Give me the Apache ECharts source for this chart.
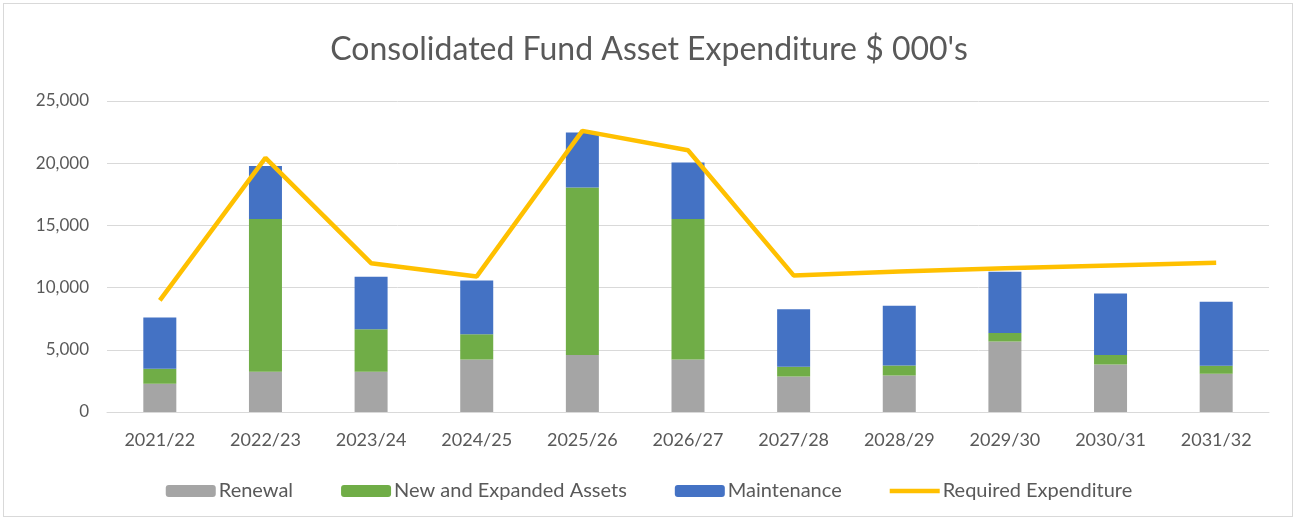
<!DOCTYPE html>
<html>
<head>
<meta charset="utf-8">
<script src="https://cdn.jsdelivr.net/npm/echarts@6/dist/echarts.min.js"></script>
<style>
    html, body { margin: 0; padding: 0; background: #fff; }
    #wrap { position: absolute; left: 3px; top: 3px; width: 1290px; height: 514px; border: 1px solid #d9d9d9; box-sizing: border-box; }
    #chart { width: 1298px; height: 522px; position: absolute; left: 0; top: 0; }
</style>
</head>
<body>
<div id="wrap"></div>
<div id="chart"></div>
<script>
var years = ['2021/22', '2022/23', '2023/24', '2024/25', '2025/26', '2026/27', '2027/28', '2028/29', '2029/30', '2030/31', '2031/32'];
var renewal = [2270, 3230, 3230, 4220, 4590, 4220, 2860, 2940, 5660, 3820, 3070];
var newAssets = [1200, 12290, 3420, 2030, 13460, 11300, 770, 800, 700, 770, 640];
var maintenance = [4120, 4250, 4220, 4330, 4410, 4540, 4620, 4810, 4910, 4940, 5160];
var required = [8970, 20430, 11960, 10900, 22600, 21040, 10980, 11300, 11560, 11780, 11990];

var txt = '#595959';
var fnt = 'Lato';

var myChart = echarts.init(document.getElementById('chart'));
myChart.setOption({
    animation: false,
    title: {
        text: "Consolidated Fund Asset Expenditure $ 000's",
        left: 'center',
        top: 29,
        textStyle: { color: txt, fontSize: 32, fontWeight: 'normal', fontFamily: fnt }
    },
    legend: {
        bottom: 16,
        left: 'center',
        itemWidth: 50,
        itemHeight: 12,
        itemGap: 48,
        textStyle: { color: txt, fontSize: 20, fontFamily: fnt, padding: [0, 0, 0, -2] },
        data: [
            'Renewal',
            'New and Expanded Assets',
            'Maintenance',
            { name: 'Required Expenditure', icon: 'path://M0,4 L50,4 L50,8.5 L0,8.5 Z' }
        ]
    },
    grid: { left: 107, right: 29, top: 101, bottom: 110 },
    xAxis: {
        type: 'category',
        data: years,
        axisTick: { show: false },
        axisLine: { lineStyle: { color: '#d9d9d9', width: 1 } },
        axisLabel: { color: txt, fontSize: 18, fontFamily: fnt, margin: 19 }
    },
    yAxis: {
        type: 'value',
        min: 0,
        max: 25000,
        interval: 5000,
        splitLine: { lineStyle: { color: '#d9d9d9', width: 1 } },
        axisLabel: {
            color: txt, fontSize: 17, fontFamily: fnt, margin: 18,
            formatter: function (v) { return v.toLocaleString('en-US'); }
        }
    },
    series: [{
        name: 'Renewal',
        type: 'bar',
        stack: 'a',
        barWidth: 33,
        itemStyle: { color: '#A5A5A5' },
        data: renewal
    }, {
        name: 'New and Expanded Assets',
        type: 'bar',
        stack: 'a',
        itemStyle: { color: '#70AD47' },
        data: newAssets
    }, {
        name: 'Maintenance',
        type: 'bar',
        stack: 'a',
        itemStyle: { color: '#4472C4' },
        data: maintenance
    }, {
        name: 'Required Expenditure',
        type: 'line',
        symbol: 'none',
        showSymbol: false,
        lineStyle: { color: '#FFC000', width: 4.5 },
        itemStyle: { color: '#FFC000' },
        data: required
    }]
});
</script>
</body>
</html>
